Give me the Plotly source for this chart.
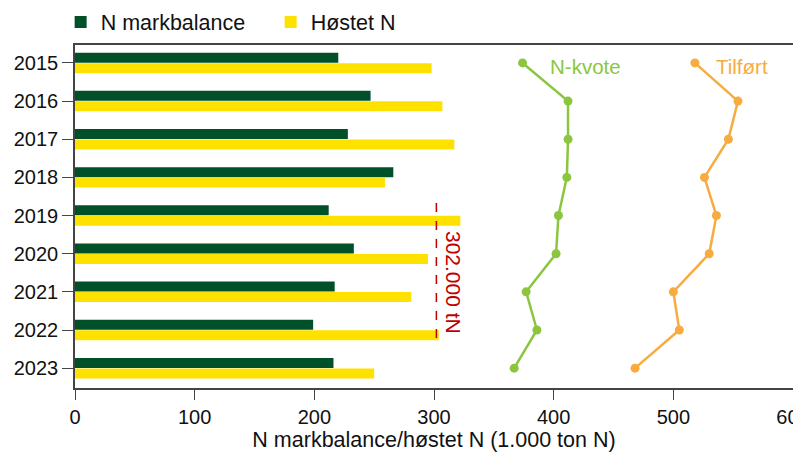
import plotly.graph_objects as go

years = [2015, 2016, 2017, 2018, 2019, 2020, 2021, 2022, 2023]
n_markbalance = [220, 247, 228, 266, 212, 233, 217, 199, 216]
hoestet_n = [298, 307, 317, 259, 322, 295, 281, 304, 250]
n_kvote = [374, 412, 412, 411, 404, 402, 377, 386, 367]
tilfoert = [518, 554, 546, 526, 536, 530, 500, 505, 468]
ref_value = 302
ref_label = "302.000 tN"
x_ticks = [0, 100, 200, 300, 400, 500, 600]

FONT = "Liberation Sans, Arial, sans-serif"
DARK_GREEN = "#00502a"
YELLOW = "#ffe100"
LIGHT_GREEN = "#8cc63f"
ORANGE = "#f8ab3f"
RED = "#c00000"
AXIS = "#444444"

fig = go.Figure()
fig.add_trace(go.Bar(y=years, x=n_markbalance, orientation="h", name="N markbalance",
                     marker=dict(color=DARK_GREEN, line=dict(width=0))))
fig.add_trace(go.Bar(y=years, x=hoestet_n, orientation="h", name="Høstet N",
                     marker=dict(color=YELLOW, line=dict(width=0))))
fig.add_trace(go.Scatter(y=years, x=n_kvote, mode="lines+markers", name="N-kvote",
                         showlegend=False, line=dict(color=LIGHT_GREEN, width=2.5),
                         marker=dict(color=LIGHT_GREEN, size=9)))
fig.add_trace(go.Scatter(y=years, x=tilfoert, mode="lines+markers", name="Tilført",
                         showlegend=False, line=dict(color=ORANGE, width=2.5),
                         marker=dict(color=ORANGE, size=9)))

fig.add_shape(type="line", x0=ref_value, x1=ref_value, y0=2018.67, y1=2022.4,
              xref="x", yref="y", line=dict(color=RED, width=1.5, dash="dash"))
fig.add_annotation(x=316.5, y=2020.76, text=ref_label, showarrow=False, textangle=90,
                   font=dict(color=RED, size=21, family=FONT))
fig.add_annotation(x=427, y=2015.1, text="N-kvote", showarrow=False,
                   font=dict(color=LIGHT_GREEN, size=20.5, family=FONT))
fig.add_annotation(x=557, y=2015.1, text="Tilført", showarrow=False,
                   font=dict(color=ORANGE, size=20.5, family=FONT))

# page body has an 8px margin: margins are set so the plot area lands at x 75..793, y 45..388
fig.update_layout(
    width=801, height=460,
    margin=dict(l=67, r=16, t=37, b=80, autoexpand=False),
    paper_bgcolor="white", plot_bgcolor="white",
    font=dict(family=FONT, size=20, color="#111111"),
    barmode="group", bargap=0.45, bargroupgap=0.05,
    legend=dict(orientation="h", x=-0.02, y=1.067, xanchor="left", yanchor="middle",
                font=dict(size=21.5), itemwidth=30, traceorder="normal",
                entrywidth=165, entrywidthmode="pixels"),
    xaxis=dict(range=[0, 600], tickvals=x_ticks, showgrid=False, zeroline=False,
               showline=True, linecolor=AXIS, linewidth=1.5, mirror=True,
               ticks="outside", ticklen=10, tickcolor=AXIS, tickwidth=1.2,
               tickfont=dict(size=20), ticklabeloverflow="allow",
               title=dict(text="N markbalance/høstet N (1.000 ton N)", font=dict(size=21.5), standoff=5)),
    yaxis=dict(range=[2023.52, 2014.53], tickvals=years, showgrid=False, zeroline=False,
               showline=True, linecolor=AXIS, linewidth=1.5, mirror=True,
               ticks="outside", ticklen=11, tickcolor=AXIS, tickwidth=1.2,
               tickfont=dict(size=20)),
)

fig.write_html("out.html")
